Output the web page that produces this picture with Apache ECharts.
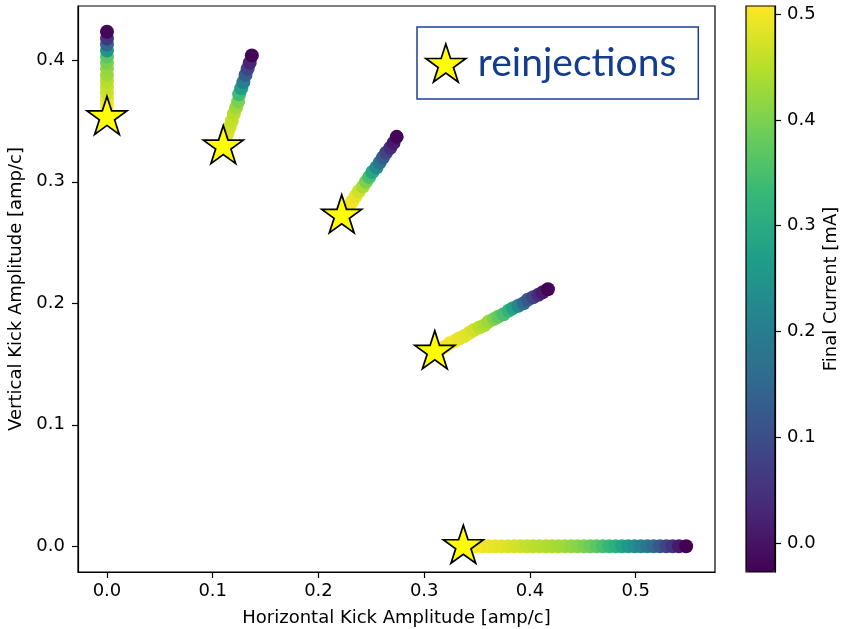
<!DOCTYPE html>
<html>
<head>
<meta charset="utf-8">
<script src="https://cdn.jsdelivr.net/npm/echarts@6/dist/echarts.min.js"></script>
<style>
  html, body { margin: 0; padding: 0; background: #ffffff; }
  #chart { width: 843px; height: 629px; }
</style>
</head>
<body>
<div id="chart"></div>
<script>
// Kick scans: each scan starts at its reinjection point and steps outward.
const scan1X = [0, 0, 0, 0, 0, 0, 0, 0, 0, 0, 0, 0, 0, 0, 0];
const scan1Y = [0.353, 0.358, 0.363, 0.368, 0.373, 0.378, 0.383, 0.388, 0.393, 0.398, 0.403, 0.408, 0.413, 0.418, 0.4235];
const scan1Current = [0.507, 0.505, 0.50, 0.49, 0.47, 0.46, 0.45, 0.43, 0.42, 0.40, 0.37, 0.25, 0.15, 0.06, -0.02];

const scan2X = [0.110, 0.112, 0.114, 0.116, 0.118, 0.120, 0.122, 0.124, 0.125, 0.127, 0.129, 0.131, 0.133, 0.135, 0.137];
const scan2Y = [0.329, 0.334, 0.340, 0.345, 0.350, 0.356, 0.361, 0.366, 0.372, 0.377, 0.382, 0.388, 0.393, 0.398, 0.404];
const scan2Current = [0.505, 0.495, 0.48, 0.47, 0.46, 0.45, 0.43, 0.40, 0.34, 0.27, 0.20, 0.13, 0.08, 0.03, -0.02];

const scan3X = [0.222, 0.225, 0.229, 0.232, 0.235, 0.238, 0.242, 0.245, 0.248, 0.251, 0.255, 0.258, 0.261, 0.264, 0.268, 0.271, 0.274];
const scan3Y = [0.272, 0.276, 0.280, 0.284, 0.288, 0.292, 0.296, 0.300, 0.304, 0.308, 0.312, 0.316, 0.320, 0.324, 0.328, 0.332, 0.337];
const scan3Current = [0.507, 0.505, 0.50, 0.50, 0.49, 0.47, 0.44, 0.40, 0.35, 0.29, 0.23, 0.18, 0.13, 0.08, 0.04, 0.01, -0.02];

const scan4X = [0.310, 0.315, 0.319, 0.324, 0.329, 0.333, 0.338, 0.343, 0.347, 0.352, 0.357, 0.361, 0.366, 0.370, 0.375, 0.380, 0.384, 0.389, 0.394, 0.398, 0.403, 0.408, 0.412, 0.417];
const scan4Y = [0.160, 0.162, 0.164, 0.167, 0.169, 0.171, 0.173, 0.176, 0.178, 0.180, 0.182, 0.185, 0.187, 0.189, 0.191, 0.194, 0.196, 0.198, 0.200, 0.203, 0.205, 0.207, 0.209, 0.2115];
const scan4Current = [0.507, 0.507, 0.505, 0.50, 0.50, 0.49, 0.485, 0.48, 0.47, 0.455, 0.44, 0.43, 0.40, 0.375, 0.35, 0.32, 0.28, 0.22, 0.16, 0.12, 0.08, 0.04, 0.01, -0.02];

const scan5X = [0.337, 0.343, 0.349, 0.355, 0.361, 0.367, 0.373, 0.379, 0.385, 0.391, 0.397, 0.403, 0.409, 0.415, 0.421, 0.427, 0.433, 0.439, 0.445, 0.451, 0.457, 0.463, 0.469, 0.475, 0.481, 0.487, 0.493, 0.499, 0.505, 0.511, 0.517, 0.523, 0.529, 0.535, 0.541, 0.5477];
const scan5Y = [0, 0, 0, 0, 0, 0, 0, 0, 0, 0, 0, 0, 0, 0, 0, 0, 0, 0, 0, 0, 0, 0, 0, 0, 0, 0, 0, 0, 0, 0, 0, 0, 0, 0, 0, 0];
const scan5Current = [0.5076, 0.507, 0.505, 0.50, 0.495, 0.49, 0.485, 0.48, 0.475, 0.47, 0.46, 0.455, 0.45, 0.445, 0.44, 0.435, 0.43, 0.42, 0.41, 0.40, 0.385, 0.37, 0.35, 0.33, 0.31, 0.285, 0.26, 0.235, 0.21, 0.18, 0.15, 0.12, 0.08, 0.05, 0.01, -0.0274];

const xTicks = [0, 0.1, 0.2, 0.3, 0.4, 0.5];
const yTicks = [0, 0.1, 0.2, 0.3, 0.4];
const currentTicks = [0, 0.1, 0.2, 0.3, 0.4, 0.5];

const xName = 'Horizontal Kick Amplitude [amp/c]';
const yName = 'Vertical Kick Amplitude [amp/c]';
const currentName = 'Final Current [mA]';
const startName = 'reinjections';

const viridis = ['#440154', '#482878', '#3e4989', '#31688e', '#26828e',
                 '#1f9e89', '#35b779', '#6ece58', '#b5de2b', '#fde725'];

const scans = [
  { x: scan1X, y: scan1Y, c: scan1Current },
  { x: scan2X, y: scan2Y, c: scan2Current },
  { x: scan3X, y: scan3Y, c: scan3Current },
  { x: scan4X, y: scan4Y, c: scan4Current },
  { x: scan5X, y: scan5Y, c: scan5Current }
];

const allCurrents = scans.flatMap(s => s.c);
const cMin = Math.min(...allCurrents);
const cMax = Math.max(...allCurrents);

// five-pointed star, inner radius 0.382 of the outer one
const starPath = 'path://M50 0 L61.23 34.55 L97.55 34.55 L68.17 55.9 L79.39 90.45 L50 69.1 L20.61 90.45 L31.83 55.9 L2.45 34.55 L38.77 34.55 Z';

const FONT = 'DejaVu Sans';
const fmt = v => v.toFixed(1);

const scanSeries = scans.map(s => ({
  type: 'scatter',
  xAxisIndex: 0,
  yAxisIndex: 0,
  symbol: 'circle',
  symbolSize: 14,
  itemStyle: { opacity: 1 },
  data: s.x.map((x, i) => [x, s.y[i], s.c[i]]),
  emphasis: { disabled: true },
  z: 2
}));

const starSeries = {
  type: 'scatter',
  name: startName,
  xAxisIndex: 0,
  yAxisIndex: 0,
  symbol: starPath,
  symbolSize: [40, 38],
  symbolOffset: [0, -2],
  itemStyle: { color: '#ffff00', borderColor: '#000000', borderWidth: 1.7, opacity: 1 },
  data: scans.map(s => [s.x[0], s.y[0]]),
  emphasis: { disabled: true },
  z: 5
};

const chart = echarts.init(document.getElementById('chart'), null, { renderer: 'canvas' });

chart.setOption({
  animation: false,
  backgroundColor: '#ffffff',
  textStyle: { fontFamily: FONT },
  grid: [
    { left: 78, right: 128, top: 6, bottom: 57, outerBoundsMode: 'none', containLabel: false,
      show: true, borderColor: '#000', borderWidth: 1.2, backgroundColor: 'transparent' },
    { left: 746, right: 68, top: 6, bottom: 57, outerBoundsMode: 'none', containLabel: false,
      show: true, borderColor: '#000', borderWidth: 1.2, backgroundColor: 'transparent', z: 10 }
  ],
  xAxis: [
    {
      gridIndex: 0, type: 'value', min: -0.0274, max: 0.575,
      axisLine: { show: true, onZero: false, lineStyle: { color: '#000', width: 1.2 } },
      axisTick: { show: true, length: 6, customValues: xTicks, lineStyle: { color: '#000', width: 1.2 } },
      axisLabel: { customValues: xTicks, formatter: fmt, color: '#000', fontSize: 18, fontFamily: FONT, margin: 10 },
      splitLine: { show: false },
      name: xName, nameLocation: 'middle', nameGap: 37,
      nameTextStyle: { color: '#000', fontSize: 18, fontFamily: FONT }
    },
    { gridIndex: 1, type: 'value', min: 0, max: 1, show: false }
  ],
  yAxis: [
    {
      gridIndex: 0, type: 'value', min: -0.0212, max: 0.4447,
      axisLine: { show: true, onZero: false, lineStyle: { color: '#000', width: 1.2 } },
      axisTick: { show: true, length: 6, customValues: yTicks, lineStyle: { color: '#000', width: 1.2 } },
      axisLabel: { customValues: yTicks, formatter: fmt, color: '#000', fontSize: 18, fontFamily: FONT, margin: 13 },
      splitLine: { show: false },
      name: yName, nameLocation: 'middle', nameGap: 46, nameRotate: 90,
      nameTextStyle: { color: '#000', fontSize: 18, fontFamily: FONT }
    },
    {
      gridIndex: 1, type: 'value', position: 'right', min: cMin, max: cMax, z: 10,
      axisLine: { show: true, onZero: false, lineStyle: { color: '#000', width: 1.2 } },
      axisTick: { show: true, length: 6, customValues: currentTicks, lineStyle: { color: '#000', width: 1.2 } },
      axisLabel: { customValues: currentTicks, formatter: fmt, color: '#000', fontSize: 18, fontFamily: FONT, margin: 12 },
      splitLine: { show: false },
      name: currentName, nameLocation: 'middle', nameGap: 47, nameRotate: 90,
      nameTextStyle: { color: '#000', fontSize: 18, fontFamily: FONT }
    }
  ],
  visualMap: {
    type: 'continuous',
    seriesIndex: [0, 1, 2, 3, 4],
    dimension: 2,
    min: cMin,
    max: cMax,
    inRange: { color: viridis },
    calculable: false,
    hoverLink: false,
    orient: 'vertical',
    left: 741,
    top: 1,
    padding: 5,
    itemWidth: 29,
    itemHeight: 566,
    text: null,
    z: 4
  },
  legend: {
    data: [startName],
    selectedMode: false,
    left: 417,
    top: 27,
    orient: 'horizontal',
    icon: starPath,
    itemWidth: 40,
    itemHeight: 38,
    padding: [16, 22, 16, 8],
    borderColor: '#1c3f94',
    borderWidth: 1.5,
    backgroundColor: '#ffffff',
    textStyle: { color: '#123c8c', fontSize: 39, lineHeight: 40, fontFamily: 'Lato', padding: [0, 0, 0, 7] },
    itemStyle: { color: '#ffff00', borderColor: '#000000', borderWidth: 1.7, opacity: 1 }
  },
  series: [...scanSeries, starSeries]
});
</script>
</body>
</html>
